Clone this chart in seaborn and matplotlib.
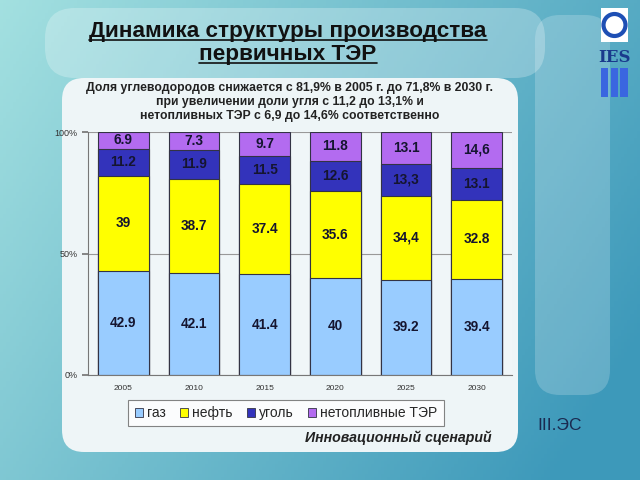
import numpy as np
import pandas as pd
import seaborn as sns
import matplotlib.pyplot as plt
from matplotlib.patches import FancyBboxPatch, Rectangle, Circle, Patch
from matplotlib.lines import Line2D

# data
years = ["2005", "2010", "2015", "2020", "2025", "2030"]
gas = [42.9, 42.1, 41.4, 40.0, 39.2, 39.4]
oil = [39.0, 38.7, 37.4, 35.6, 34.4, 32.8]
coal = [11.2, 11.9, 11.5, 12.6, 13.3, 13.1]
nonfuel = [6.9, 7.3, 9.7, 11.8, 13.1, 14.6]
gas_lbl = ["42.9", "42.1", "41.4", "40", "39.2", "39.4"]
oil_lbl = ["39", "38.7", "37.4", "35.6", "34,4", "32.8"]
coal_lbl = ["11.2", "11.9", "11.5", "12.6", "13,3", "13.1"]
nonfuel_lbl = ["6.9", "7.3", "9.7", "11.8", "13.1", "14,6"]
series_names = ["газ", "нефть", "уголь", "нетопливные ТЭР"]
colors = ["#99CCFF", "#FFFF00", "#3333BB", "#B36BF0"]

sns.set_theme(style="white")
plt.rcParams['font.family'] = ['Liberation Sans', 'DejaVu Sans']

fig = plt.figure(figsize=(6.4, 4.8), dpi=100)

# background
bg = fig.add_axes([0, 0, 1, 1])
gx = np.linspace(0, 1, 200)
gy = np.linspace(0, 1, 150)
X, Y = np.meshgrid(gx, gy)
c_left = np.array([0.64, 0.88, 0.88])
c_right = np.array([0.24, 0.60, 0.73])
t = np.clip(0.75 * X + 0.35 * Y, 0, 1)[..., None]
img = c_left * (1 - t) + c_right * t
bg.imshow(img, extent=[0, 640, 480, 0], aspect='auto')
bg.set_xlim(0, 640)
bg.set_ylim(480, 0)
bg.axis('off')
bg.add_patch(FancyBboxPatch((45, 8), 500, 70, boxstyle="round,pad=0,rounding_size=30",
                            fc="white", ec="none", alpha=0.25))
bg.add_patch(FancyBboxPatch((535, 15), 75, 380, boxstyle="round,pad=0,rounding_size=25",
                            fc="white", ec="none", alpha=0.2))
bg.add_patch(FancyBboxPatch((62, 78), 456, 374, boxstyle="round,pad=0,rounding_size=22",
                            fc="#EEF5F7", ec="none"))
# logo
bg.add_patch(Rectangle((601, 8), 27, 34, fc="white", ec="none"))
bg.add_patch(Circle((614.5, 25), 11, fc="none", ec="#1E4FB4", lw=3))
bg.text(614.5, 57, "IES", ha="center", va="center", fontsize=12, fontweight="bold",
        family="DejaVu Serif", color="#1A3A8C")
for bx in [601, 611, 620]:
    bg.add_patch(Rectangle((bx, 68), 7 if bx < 620 else 8, 29, fc="#3A66E0", ec="none"))

# titles (baseline positions)
tfam = ['Liberation Sans', 'DejaVu Sans']
t1 = fig.text(0.45, 1 - 37 / 480, "Динамика структуры производства", ha="center", va="baseline",
              fontsize=16.2, fontweight="bold", color="#111111", family=tfam)
t2 = fig.text(0.45, 1 - 60 / 480, "первичных ТЭР", ha="center", va="baseline",
              fontsize=16.2, fontweight="bold", color="#111111", family=tfam)
fig.text(0.453, 1 - 102 / 480,
         "Доля углеводородов снижается с 81,9% в 2005 г. до 71,8% в 2030 г.\n"
         "при увеличении доли угля с 11,2 до 13,1% и\n"
         "нетопливных ТЭР с 6,9 до 14,6% соответственно",
         ha="center", va="center", fontsize=8.8, fontweight="bold", color="#222222",
         linespacing=1.25)

# chart
ax = fig.add_axes([88 / 640, 1 - 375 / 480, 424 / 640, 243 / 480])
ax.set_facecolor("#F0F6F8")
df = pd.DataFrame({"year": years, "gas": gas, "oil": oil, "coal": coal, "nonfuel": nonfuel})
cols = ["gas", "oil", "coal", "nonfuel"]
cum = df[cols].cumsum(axis=1)
cum["nonfuel"] = 100.0
for col, c in zip(cols[::-1], colors[::-1]):
    sns.barplot(x=df["year"], y=cum[col], color=c, width=0.72, edgecolor="#333344",
                linewidth=0.8, saturation=1, ax=ax, zorder=2)

labels = [gas_lbl, oil_lbl, coal_lbl, nonfuel_lbl]
for j, col in enumerate(cols):
    for i in range(len(years)):
        top = cum[col].iloc[i]
        val = df[col].iloc[i]
        ax.text(i, top - val / 2, labels[j][i], ha="center", va="center",
                fontsize=9.8, fontweight="bold", color="#151530", zorder=3)

ax.set_ylim(0, 100)
ax.set_xlim(-0.5, 5.5)
ax.set_yticks([0, 50, 100])
ax.set_yticklabels(["0%", "50%", "100%"])
ax.yaxis.grid(True, color="#999999", lw=0.8)
ax.set_axisbelow(True)
ax.set_xlabel("")
ax.set_ylabel("")
ax.set_xticks(np.arange(-0.5, 6, 1), minor=True)
ax.tick_params(axis="x", which="major", length=0, labelsize=6, colors="#333333", pad=7)
ax.tick_params(axis="x", which="minor", length=4, color="#777777", direction="out")
ax.tick_params(axis="y", length=4, color="#777777", labelsize=6.5, labelcolor="#333333",
               direction="out", left=True)
sns.despine(ax=ax, top=True, right=True)
for s in ["left", "bottom"]:
    ax.spines[s].set_color("#777777")
    ax.spines[s].set_linewidth(0.8)

handles = [Patch(fc=c, ec="#333344", lw=0.6) for c in colors]
leg = fig.legend(handles, series_names, loc="center", bbox_to_anchor=(286 / 640, 1 - 413 / 480),
                 ncol=4, fontsize=10, frameon=True, fancybox=False, handlelength=0.6,
                 handleheight=0.6, handletextpad=0.3, columnspacing=1.0, borderpad=0.45,
                 borderaxespad=0)
leg.get_frame().set_edgecolor("#666666")
leg.get_frame().set_facecolor("white")
leg.get_frame().set_linewidth(0.8)

fig.text(492 / 640, 1 - 438 / 480, "Инновационный сценарий", ha="right", va="center",
         fontsize=10.2, fontweight="bold", style="italic", color="#222222")
fig.text(537 / 640, 1 - 425 / 480, "III.ЭС", ha="left", va="center", fontsize=12.5,
         color="#1A2A50")

# underline the title lines, a little below the baseline
fig.canvas.draw()
for tx, base in [(t1, 37), (t2, 60)]:
    bb = tx.get_window_extent().transformed(fig.transFigure.inverted())
    yl = 1 - (base + 3) / 480
    fig.add_artist(Line2D([bb.x0, bb.x1], [yl, yl], transform=fig.transFigure,
                          color="#111111", lw=1.2))

fig.savefig("out.png", dpi=100)
